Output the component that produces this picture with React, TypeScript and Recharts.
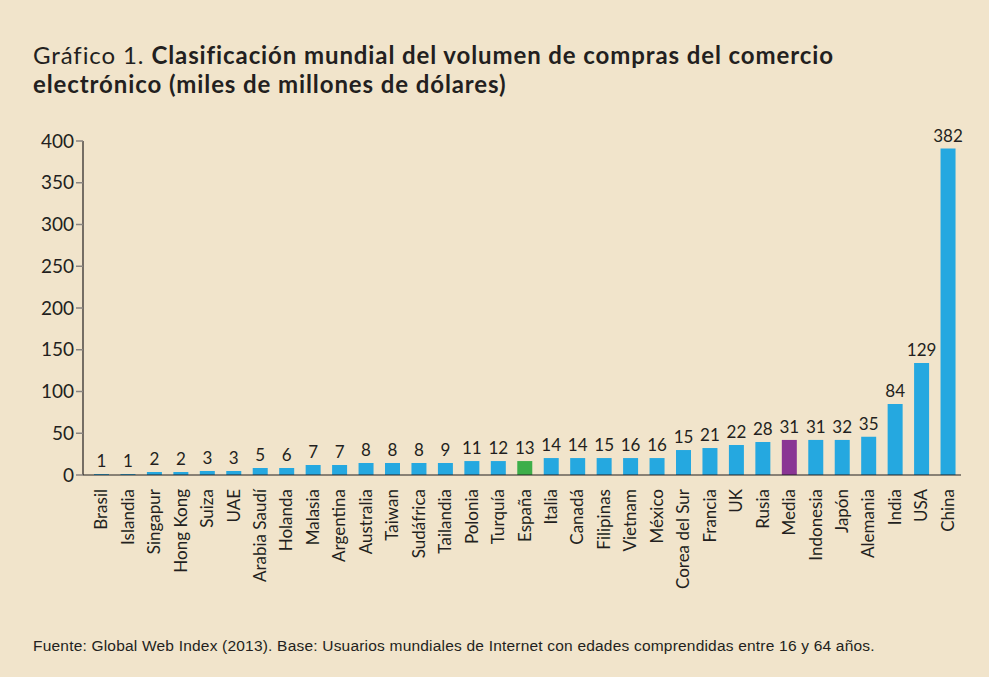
import { BarChart, Bar, XAxis, YAxis, Cell, LabelList } from 'recharts';

const paises = [
  'Brasil', 'Islandia', 'Singapur', 'Hong Kong', 'Suiza', 'UAE', 'Arabia Saudí', 'Holanda',
  'Malasia', 'Argentina', 'Australia', 'Taiwan', 'Sudáfrica', 'Tailandia', 'Polonia', 'Turquía',
  'España', 'Italia', 'Canadá', 'Filipinas', 'Vietnam', 'México', 'Corea del Sur', 'Francia',
  'UK', 'Rusia', 'Media', 'Indonesia', 'Japón', 'Alemania', 'India', 'USA', 'China',
];

// bar heights as drawn in the picture
const alturas = [
  1.2, 1.2, 3.6, 3.6, 4.8, 4.8, 8.4, 8.4, 12, 12, 14.4, 14.4, 14.4, 14.4, 16.7, 16.7,
  16.7, 20.3, 20.3, 20.3, 20.3, 20.3, 29.9, 32.3, 35.9, 39.5, 42, 42, 42, 45.8, 85, 134, 391,
];

// numbers printed above the bars
const etiquetas = [
  1, 1, 2, 2, 3, 3, 5, 6, 7, 7, 8, 8, 8, 9, 11, 12,
  13, 14, 14, 15, 16, 16, 15, 21, 22, 28, 31, 31, 32, 35, 84, 129, 382,
];

const yTicks = [0, 50, 100, 150, 200, 250, 300, 350, 400];

const destacados: Record<string, string> = { 'España': '#3DAE49', Media: '#8A3594' };

const data = paises.map((pais, i) => ({ pais, valor: alturas[i], etiqueta: etiquetas[i] }));

const FONT = 'Lato, "Open Sans", sans-serif';

function PaisTick(props: any) {
  const { x, y, payload } = props;
  return (
    <text
      x={x}
      y={y}
      transform={`rotate(-90 ${x} ${y})`}
      textAnchor="end"
      dx={-6}
      dy={6}
      fontSize={17}
      fontFamily={FONT}
      fill="#231F20"
    >
      {payload.value}
    </text>
  );
}

export default function App() {
  return (
    <div
      style={{
        position: 'absolute',
        left: 0,
        top: 0,
        width: 989,
        height: 677,
        background: '#F1E4CB',
        overflow: 'hidden',
      }}
    >
      <div
        style={{
          position: 'absolute',
          left: 33,
          top: 40,
          fontFamily: FONT,
          fontSize: 24,
          letterSpacing: 0.9,
          lineHeight: '29px',
          color: '#231F20',
          whiteSpace: 'nowrap',
        }}
      >
        Gráfico 1. <b>Clasificación mundial del volumen de compras del comercio</b>
        <br />
        <b>electrónico (miles de millones de dólares)</b>
      </div>

      <div style={{ position: 'absolute', left: 0, top: 0 }}>
        <BarChart
          width={989}
          height={677}
          data={data}
          margin={{ top: 141, right: 28, bottom: 92, left: 23 }}
        >
          <XAxis
            dataKey="pais"
            interval={0}
            height={110}
            padding={{ left: 5, right: 0 }}
            tickLine={false}
            axisLine={{ stroke: '#231F20', strokeWidth: 1.2 }}
            tick={<PaisTick />}
          />
          <YAxis
            domain={[0, 400]}
            ticks={yTicks}
            width={60}
            tickSize={7}
            tickLine={{ stroke: '#8a8580', strokeWidth: 1.5 }}
            axisLine={{ stroke: '#231F20', strokeWidth: 1.2 }}
            tick={{ fontSize: 19, fontFamily: FONT, fill: '#231F20' }}
            interval={0}
          />
          <Bar dataKey="valor" barSize={15} isAnimationActive={false}>
            {data.map((d) => (
              <Cell key={d.pais} fill={destacados[d.pais] ?? '#25A8E0'} />
            ))}
            <LabelList
              dataKey="etiqueta"
              position="top"
              offset={7}
              fontSize={17}
              fontFamily={FONT}
              fill="#231F20"
            />
          </Bar>
        </BarChart>
      </div>

      <div
        style={{
          position: 'absolute',
          left: 33,
          top: 637,
          fontFamily: '"Liberation Sans", Arial, sans-serif',
          fontSize: 15.5,
          letterSpacing: 0.2,
          color: '#231F20',
          whiteSpace: 'nowrap',
        }}
      >
        Fuente: Global Web Index (2013). Base: Usuarios mundiales de Internet con edades comprendidas entre 16 y 64 años.
      </div>
    </div>
  );
}
